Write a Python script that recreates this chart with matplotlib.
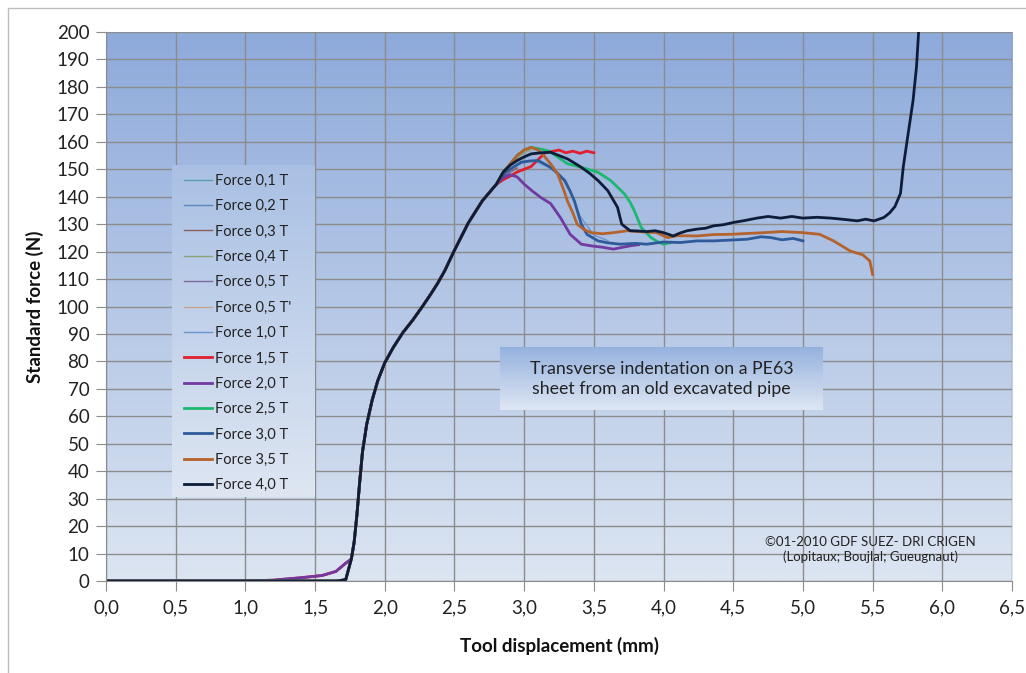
import numpy as np
import matplotlib
matplotlib.use("Agg")
import matplotlib.pyplot as plt
from matplotlib.colors import LinearSegmentedColormap
from matplotlib.patches import Rectangle
from matplotlib.lines import Line2D

plt.rcParams['font.family'] = ['Lato', 'DejaVu Sans']

# ---- data ----
labels = ['Force 0,1 T', 'Force 0,2 T', 'Force 0,3 T', 'Force 0,4 T', 'Force 0,5 T',
          "Force 0,5 T'", 'Force 1,0 T', 'Force 1,5 T', 'Force 2,0 T', 'Force 2,5 T',
          'Force 3,0 T', 'Force 3,5 T', 'Force 4,0 T']
colors = ['#5A9FB0', '#5B86BE', '#8E5E5E', '#8FA476', '#7E6A9A', '#C9A58E', '#6C95CF',
          '#E0202E', '#7239A0', '#1DB870', '#2E5A9A', '#B5632D', '#0E1C3A']
widths = [1, 1, 1, 1, 1, 1, 1, 2, 2, 2, 2, 2, 2]

# foot of the curves: gradual start (a) or late start (b)
foot_a_x = [0.0, 1.0, 1.2, 1.4, 1.55, 1.65, 1.72]
foot_a_y = [0, 0, 0.3, 1.2, 2.0, 3.5, 6.5]
foot_b_x = [0.0, 1.66, 1.72]
foot_b_y = [0, 0, 0.5]
feet = ['a', 'b', 'a', 'b', 'a', 'b', 'a', 'a', 'a', 'b', 'b', 'b', 'b']

# common rising part
rise_x = [1.76, 1.78, 1.80, 1.82, 1.84, 1.87, 1.91, 1.95, 2.0, 2.06, 2.13, 2.2,
          2.27, 2.33, 2.38, 2.43, 2.5, 2.6, 2.7, 2.8]
rise_y = [8, 14, 24, 36, 47, 57, 66, 73, 79.5, 85, 90.5, 95,
          100, 104.5, 108.5, 113, 120.5, 130.5, 138.5, 144.5]

# tails after the rise, one per series
t01_x = [2.85, 2.9]
t01_y = [147.5, 149]
t02_x = [2.9, 2.95, 3.0]
t02_y = [150, 151.5, 152.5]
t03_x = [2.9, 2.95]
t03_y = [149, 150.5]
t04_x = [2.9, 2.95, 3.0, 3.05]
t04_y = [151, 154, 156, 157]
t05_x = [2.88, 2.92]
t05_y = [148.5, 149.5]
t05b_x = [2.9, 2.95, 3.0, 3.05]
t05b_y = [152, 155, 157, 157.5]
t10_x = [2.9, 2.95, 3.0, 3.05, 3.1, 3.2, 3.3, 3.4, 3.5, 3.6]
t10_y = [150, 152, 152.5, 153, 152.5, 150, 146, 133, 126, 124]
t15_x = [2.86, 2.9, 2.95, 3.0, 3.05, 3.1, 3.15, 3.2, 3.25, 3.3, 3.35, 3.4, 3.45, 3.5]
t15_y = [146.5, 147.5, 149, 150, 151, 153.5, 156, 156.5, 157, 156, 156.6, 155.8, 156.6, 156]
t20_x = [2.85, 2.9, 2.95, 3.0, 3.06, 3.12, 3.19, 3.26, 3.33, 3.41, 3.48, 3.56, 3.64,
         3.7, 3.76, 3.82]
t20_y = [147, 148, 147.2, 144.6, 142, 139.7, 137.5, 132.4, 126.3, 122.7, 122.1, 121.6,
         120.9, 121.5, 122.1, 122.5]
t25_x = [2.85, 2.9, 2.95, 3.0, 3.05, 3.1, 3.17, 3.24, 3.31, 3.41, 3.53, 3.62, 3.67,
         3.72, 3.76, 3.79, 3.84, 3.91, 3.96, 4.0, 4.05]
t25_y = [149, 152, 155, 157, 158, 157.5, 156.8, 154.5, 152, 150.7, 148.9, 145.9, 143.5,
         141, 138, 134.9, 128.8, 125.1, 123.5, 122.7, 123.3]
t30_x = [2.87, 2.93, 2.98, 3.04, 3.1, 3.19, 3.24, 3.29, 3.33, 3.36, 3.41, 3.45, 3.53,
         3.6, 3.69, 3.8, 3.88, 4.0, 4.12, 4.24, 4.36, 4.48, 4.6, 4.7, 4.77, 4.85,
         4.93, 5.0]
t30_y = [149, 151, 152.6, 153, 153.2, 150.7, 148.5, 145.9, 142, 138.5, 130, 126.3, 123.9,
         123.2, 122.7, 123, 122.7, 123.5, 123.3, 123.9, 123.9, 124.2, 124.5, 125.4, 125.1,
         124.3, 124.8, 123.9]
t35_x = [2.85, 2.9, 2.95, 3.0, 3.05, 3.1, 3.14, 3.19, 3.24, 3.28, 3.31, 3.35, 3.38,
         3.43, 3.48, 3.56, 3.64, 3.74, 3.85, 3.95, 4.03, 4.1, 4.24, 4.36, 4.48, 4.6,
         4.72, 4.85, 5.0, 5.12, 5.22, 5.34, 5.43, 5.48, 5.5]
t35_y = [149, 152, 155, 157, 158, 157, 155, 152, 148.3, 143, 138.5, 134, 130,
         128, 126.9, 126.5, 126.9, 127.6, 127.2, 126.9, 125.1, 125.8, 125.7, 126.2, 126.3,
         126.6, 126.9, 127.3, 126.9, 126.3, 123.9, 120.2, 118.8, 116.6, 111.7]
t40_x = [2.85, 2.9, 2.95, 3.0, 3.05, 3.12, 3.19, 3.25, 3.31, 3.36, 3.41, 3.47, 3.53,
         3.6, 3.67, 3.70, 3.76, 3.82, 3.88, 3.94, 4.0, 4.07, 4.12, 4.17, 4.24, 4.3,
         4.36, 4.43, 4.5, 4.58, 4.67, 4.75, 4.84, 4.92, 5.0, 5.1, 5.2, 5.3, 5.39,
         5.45, 5.51, 5.58, 5.62, 5.66, 5.70, 5.72, 5.755, 5.79, 5.815, 5.83]
t40_y = [149, 151.5, 153.2, 154.5, 155.6, 156, 156.2, 155, 153.8, 152.3, 150.7, 148.5,
         145.9, 142.2, 136.1, 130, 127.6, 127.5, 127.3, 127.6, 126.9, 125.7, 126.8,
         127.6, 128.2, 128.5, 129.4, 129.8, 130.6, 131.3, 132.2, 132.8, 132.2, 132.8,
         132.2, 132.5, 132.2, 131.7, 131.2, 131.8, 131.2, 132.4, 134, 136.4, 141.2,
         150.9, 163, 175, 187.4, 200]

tails = [(t01_x, t01_y), (t02_x, t02_y), (t03_x, t03_y), (t04_x, t04_y), (t05_x, t05_y),
         (t05b_x, t05b_y), (t10_x, t10_y), (t15_x, t15_y), (t20_x, t20_y), (t25_x, t25_y),
         (t30_x, t30_y), (t35_x, t35_y), (t40_x, t40_y)]

x_ticks = np.arange(0, 6.51, 0.5)
y_ticks = np.arange(0, 201, 10)

# ---- figure ----
fig = plt.figure(figsize=(10.26, 6.73), dpi=100)
fig.patch.set_facecolor('white')
ax = fig.add_axes([106 / 1026, 1 - 581 / 673, 906 / 1026, 549 / 673])

# outer chart frame
fig.patches.append(Rectangle((8 / 1026, -0.1), 1.2, 1.1 - 8 / 673, transform=fig.transFigure,
                             fill=False, edgecolor='#BDBDBD', lw=1))

bg = LinearSegmentedColormap.from_list('bg', ['#DCE5F2', '#8EAADB'])
grad = np.linspace(0, 1, 256).reshape(-1, 1)
ax.imshow(grad, cmap=bg, origin='lower', extent=[0, 1, 0, 1], transform=ax.transAxes,
          aspect='auto', zorder=0)

for (tx, ty), foot, c, lw, lab in zip(tails, feet, colors, widths, labels):
    fx, fy = (foot_a_x, foot_a_y) if foot == 'a' else (foot_b_x, foot_b_y)
    xs = fx + rise_x + tx
    ys = fy + rise_y + ty
    ax.plot(xs, ys, color=c, lw=lw, label=lab, zorder=2)

ax.set_xlim(0, 6.5)
ax.set_ylim(0, 200)
ax.set_xticks(x_ticks)
ax.set_yticks(y_ticks)
ax.set_xticklabels([f"{v:.1f}".replace('.', ',') for v in x_ticks])
ax.set_yticklabels([f"{int(v)}" for v in y_ticks])
ax.set_axisbelow(True)
ax.grid(True, color='#8C8C8C', lw=1)
for s in ['top', 'right']:
    ax.spines[s].set_visible(False)
for s in ['left', 'bottom']:
    ax.spines[s].set_color('#8C8C8C')
ax.tick_params(axis='both', direction='out', length=7, color='#8C8C8C',
               labelsize=13.5, labelcolor='#222222', pad=5)
ax.tick_params(axis='x', pad=6)

ax.set_xlabel('Tool displacement (mm)', fontsize=13.5, fontweight='bold', color='#111111')
ax.set_ylabel('Standard force (N)', fontsize=13.5, fontweight='bold', color='#111111')
ax.xaxis.set_label_coords(0.5, -0.102)
ax.yaxis.set_label_coords(-0.068, 0.5)

# legend with gradient box
lg_box = ax.inset_axes([0.0728, 0.153, 0.157, 0.605], zorder=6)
lg_box.imshow(grad, cmap=LinearSegmentedColormap.from_list('lg', ['#DEE6F2', '#A9C0E4']),
              origin='lower', extent=[0, 1, 0, 1], aspect='auto')
lg_box.set_axis_off()
handles = [Line2D([], [], color=c, lw=lw) for c, lw in zip(colors, widths)]
leg = ax.legend(handles, labels, loc='upper left', bbox_to_anchor=(0.078, 0.755),
                frameon=False, fontsize=10.5, handlelength=1.9, handletextpad=0.25,
                labelspacing=0.78, borderpad=0)
leg.set_zorder(10)
for t in leg.get_texts():
    t.set_color('#222222')

# annotation box
tb = ax.inset_axes([0.435, 0.311, 0.356, 0.115], zorder=6)
tb.imshow(grad, cmap=LinearSegmentedColormap.from_list('tb', ['#DEE6F3', '#94B1DE']),
          origin='lower', extent=[0, 1, 0, 1], aspect='auto')
tb.set_axis_off()
ax.text(0.613, 0.368, 'Transverse indentation on a PE63\nsheet from an old excavated pipe',
        transform=ax.transAxes, ha='center', va='center', fontsize=12.8, color='#222222',
        linespacing=1.35, zorder=11)

ax.text(0.844, 0.058, '©01-2010 GDF SUEZ- DRI CRIGEN\n(Lopitaux; Boujlal; Gueugnaut)',
        transform=ax.transAxes, ha='center', va='center', fontsize=9.5, color='#222222',
        linespacing=1.25, zorder=11)

fig.savefig('out.png', dpi=100)
